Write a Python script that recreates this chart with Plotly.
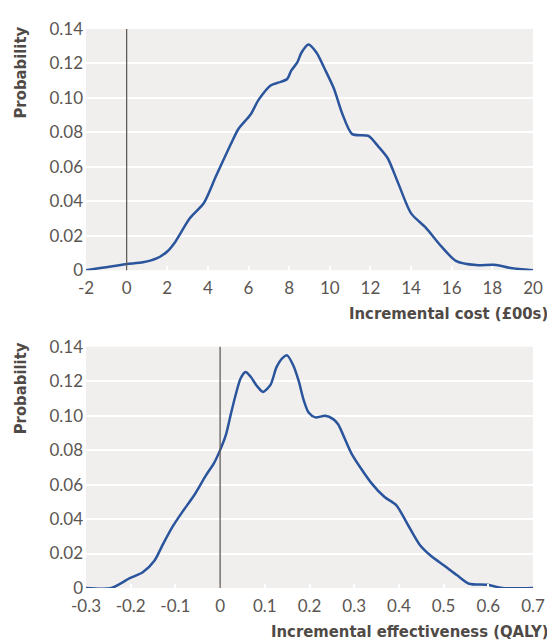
import plotly.graph_objects as go

# Incremental cost (£00s) distribution
cost_x = [-2, -1.3, -0.7, 0, 0.8, 1.5, 2.0, 2.4, 3.1, 3.8, 4.4, 5.1, 5.5, 6.1, 6.5, 7.1, 7.5, 7.9, 8.1,
          8.4, 8.6, 8.95, 9.35, 9.75, 10.2, 10.6, 11.1, 11.9, 12.4, 12.85, 13.35, 14.0, 14.7, 15.5,
          16.2, 17.2, 18.1, 18.9, 20]
cost_p = [0, 0.0013, 0.0023, 0.0036, 0.0046, 0.0070, 0.0109, 0.0166, 0.030, 0.039, 0.0547, 0.0725,
          0.082, 0.0904, 0.099, 0.1074, 0.109, 0.111, 0.1158, 0.1206, 0.1262, 0.131, 0.1262, 0.1168,
          0.1055, 0.0913, 0.079, 0.078, 0.0716, 0.065, 0.051, 0.033, 0.025, 0.0137, 0.0055, 0.003,
          0.0032, 0.0013, 0]

# Incremental effectiveness (QALY) distribution
eff_x = [-0.3, -0.243, -0.202, -0.173, -0.147, -0.128, -0.106, -0.084, -0.058, -0.032, -0.013, 0,
         0.0126, 0.024, 0.035, 0.046, 0.057, 0.068, 0.083, 0.096, 0.113, 0.126, 0.140, 0.150, 0.164,
         0.176, 0.187, 0.198, 0.213, 0.235, 0.253, 0.264, 0.294, 0.338, 0.368, 0.394, 0.42, 0.446,
         0.472, 0.502, 0.531, 0.557, 0.598, 0.631, 0.7]
eff_p = [0, 0, 0.0057, 0.0091, 0.0158, 0.0253, 0.0357, 0.0443, 0.0538, 0.0652, 0.0728, 0.080,
         0.0885, 0.1009, 0.1123, 0.1217, 0.1253, 0.1227, 0.117, 0.1138, 0.118, 0.128, 0.1335, 0.135,
         0.129, 0.120, 0.109, 0.1018, 0.099, 0.0999, 0.098, 0.095, 0.078, 0.061, 0.0528, 0.0481,
         0.0367, 0.0253, 0.0186, 0.0129, 0.0072, 0.0025, 0.0019, 0, 0]

y_ticks = [0, 0.02, 0.04, 0.06, 0.08, 0.10, 0.12, 0.14]
y_ticktext = ["0", "0.02", "0.04", "0.06", "0.08", "0.10", "0.12", "0.14"]
cost_ticks = [-2, 0, 2, 4, 6, 8, 10, 12, 14, 16, 18, 20]
cost_ticktext = ["-2", "0", "2", "4", "6", "8", "10", "12", "14", "16", "18", "20"]
eff_ticks = [-0.3, -0.2, -0.1, 0, 0.1, 0.2, 0.3, 0.4, 0.5, 0.6, 0.7]
eff_ticktext = ["-0.3", "-0.2", "-0.1", "0", "0.1", "0.2", "0.3", "0.4", "0.5", "0.6", "0.7"]

LINE = "#2a559c"
TXT = "#5b5652"
BG = "#f0efed"
TICKFONT = dict(family="Lato, Open Sans, sans-serif", size=17, color=TXT)
TITLEFONT = dict(family="Liberation Sans Narrow, DejaVu Sans Condensed, Arial Narrow, sans-serif",
                 size=16.5, color="#4f4a46")

fig = go.Figure()
fig.add_trace(go.Scatter(x=cost_x, y=cost_p, mode="lines", xaxis="x", yaxis="y",
                         line=dict(color=LINE, width=2.5, shape="spline", smoothing=0.7),
                         showlegend=False, hoverinfo="skip"))
fig.add_trace(go.Scatter(x=eff_x, y=eff_p, mode="lines", xaxis="x2", yaxis="y2",
                         line=dict(color=LINE, width=2.5, shape="spline", smoothing=0.7),
                         showlegend=False, hoverinfo="skip"))

top_dom = [0.5684, 1.0]
bot_dom = [0.0, 0.4316]

common_x = dict(showgrid=False, zeroline=False, showline=False, ticks="inside", ticklen=4,
                tickwidth=1.5, tickcolor="white", tickfont=TICKFONT, fixedrange=True,
                ticklabelstandoff=6)
common_y = dict(showgrid=True, gridcolor="white", gridwidth=1.5, zeroline=False, showline=False,
                ticks="", tickfont=TICKFONT, range=[0, 0.14], tickvals=y_ticks,
                ticktext=y_ticktext, fixedrange=True, ticklabelstandoff=2)

# page body has an 8px margin; size/margins compensate so the plot lands where the reference has it
fig.update_layout(
    width=547, height=635,
    margin=dict(l=78, r=19, t=10, b=55),
    paper_bgcolor="white", plot_bgcolor=BG,
    xaxis=dict(domain=[0, 1], anchor="y", range=[-2, 20], tickvals=cost_ticks,
               ticktext=cost_ticktext, **common_x),
    yaxis=dict(domain=top_dom, anchor="x", **common_y),
    xaxis2=dict(domain=[0, 1], anchor="y2", range=[-0.3, 0.7], tickvals=eff_ticks,
                ticktext=eff_ticktext, **common_x),
    yaxis2=dict(domain=bot_dom, anchor="x2", **common_y),
    shapes=[
        dict(type="line", xref="x", yref="y domain", x0=0, x1=0, y0=0, y1=1,
             line=dict(color="#615c58", width=1.3)),
        dict(type="line", xref="x2", yref="y2 domain", x0=0, x1=0, y0=0, y1=1,
             line=dict(color="#615c58", width=1.3)),
    ],
    annotations=[
        dict(text="<b>Probability</b>", textangle=-90, xref="paper", yref="paper",
             x=-0.1467, y=1.0088, xanchor="center", yanchor="top", showarrow=False,
             font=TITLEFONT),
        dict(text="<b>Probability</b>", textangle=-90, xref="paper", yref="paper",
             x=-0.1467, y=0.4439, xanchor="center", yanchor="top", showarrow=False,
             font=TITLEFONT),
        dict(text="<b>Incremental cost (£00s)</b>", xref="paper", yref="paper",
             x=1.0378, y=0.4912, xanchor="right", yanchor="middle", showarrow=False,
             font=TITLEFONT),
        dict(text="<b>Incremental effectiveness (QALY)</b>", xref="paper", yref="paper",
             x=1.0378, y=-0.0772, xanchor="right", yanchor="middle", showarrow=False,
             font=TITLEFONT),
    ],
)

fig.write_html("out.html")
